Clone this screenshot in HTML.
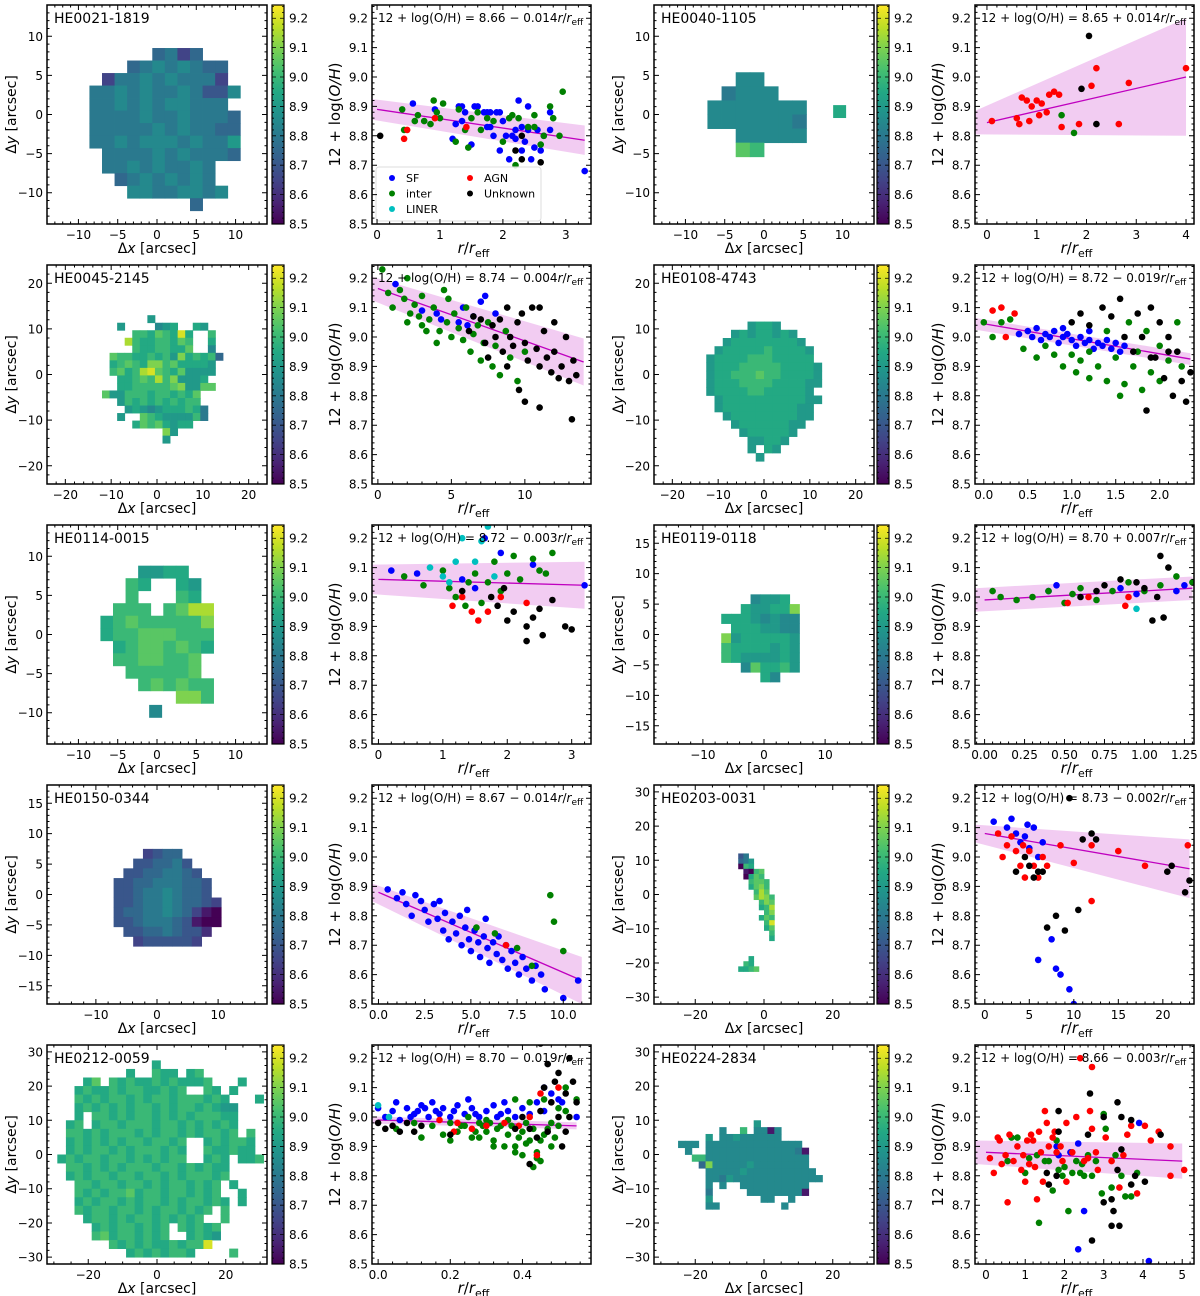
<!DOCTYPE html>
<html><head><meta charset="utf-8"><style>
html,body{margin:0;padding:0;background:#fff;}
svg{display:block;font-family:"DejaVu Sans","Liberation Sans",sans-serif;}
</style></head><body>
<svg id="fig" xmlns="http://www.w3.org/2000/svg" width="1200" height="1296" viewBox="0 0 1200 1296">
<defs>
<linearGradient id="virgrad" x1="0" y1="1" x2="0" y2="0">
<stop offset="0" stop-color="#440154"/><stop offset="0.1" stop-color="#482475"/><stop offset="0.2" stop-color="#414487"/><stop offset="0.3" stop-color="#355f8d"/><stop offset="0.4" stop-color="#2a788e"/><stop offset="0.5" stop-color="#21918c"/><stop offset="0.6" stop-color="#22a884"/><stop offset="0.7" stop-color="#44bf70"/><stop offset="0.8" stop-color="#7ad151"/><stop offset="0.9" stop-color="#bddf26"/><stop offset="1" stop-color="#fde725"/>
</linearGradient>
</defs>
</svg>
<script>
// ---------- data: scatter panels ----------
const p1SF=[[0.57,8.91],[0.92,8.89],[1.2,8.79],[1.25,8.84],[1.3,8.9],[1.35,8.9],[1.4,8.88],[1.5,8.77],[1.55,8.9],[1.6,8.9],[1.7,8.88],[1.75,8.88],[1.8,8.88],[1.8,8.83],[1.85,8.8],[1.9,8.88],[1.95,8.88],[1.95,8.75],[2.0,8.85],[2.05,8.8],[2.1,8.72],[2.15,8.8],[2.2,8.79],[2.2,8.82],[2.25,8.92],[2.3,8.83],[2.3,8.75],[2.35,8.78],[2.4,8.9],[2.4,8.82],[2.45,8.72],[2.5,8.76],[2.55,8.82],[2.6,8.75],[2.65,8.8],[2.75,8.88],[2.75,8.82],[3.3,8.68],[1.35,8.85],[1.75,8.83]];
const p1IN=[[0.4,8.89],[0.43,8.82],[0.6,8.85],[0.65,8.87],[0.75,8.85],[0.85,8.84],[0.9,8.92],[0.95,8.88],[1.0,8.86],[1.05,8.91],[1.25,8.78],[1.3,8.89],[1.4,8.82],[1.45,8.76],[1.5,8.86],[1.6,8.88],[1.65,8.82],[1.75,8.86],[1.85,8.85],[2.0,8.78],[2.1,8.86],[2.15,8.87],[2.2,8.7],[2.25,8.86],[2.4,8.83],[2.5,8.87],[2.5,8.83],[2.6,8.77],[2.65,8.8],[2.75,8.9],[2.8,8.86],[2.9,8.8],[2.95,8.95]];
const p1LI=[];
const p1AG=[[0.43,8.79],[0.48,8.82],[0.92,8.86],[1.42,8.83]];
const p1UN=[[0.05,8.8],[2.2,8.75],[2.3,8.8],[2.3,8.72],[2.6,8.71]];

const p2SF=[];
const p2IN=[[1.5,8.87],[1.75,8.81]];
const p2LI=[];
const p2AG=[[0.1,8.85],[0.6,8.86],[0.65,8.84],[0.7,8.93],[0.8,8.92],[0.85,8.85],[0.9,8.9],[1.0,8.92],[1.05,8.87],[1.1,8.91],[1.2,8.88],[1.25,8.94],[1.35,8.95],[1.45,8.94],[1.5,8.83],[1.85,8.84],[2.1,8.97],[2.2,9.03],[2.65,8.84],[2.85,8.98],[4.0,9.03]];
const p2UN=[[1.9,8.96],[2.05,9.14],[2.2,8.84]];

const p3SF=[[1.2,9.18],[3,9.09],[4.3,9.06],[5.5,9.05],[5.8,9.1],[6.1,9.04],[6.5,9.07],[4,9.08],[7,9.12],[8,9.08],[7.3,9.14]];
const p3IN=[[0.3,9.23],[0.7,9.15],[1,9.1],[1.5,9.16],[1.8,9.13],[2,9.05],[2.2,9.08],[2.5,9.11],[2.8,9.07],[3,9.04],[3.3,9.02],[3.5,9.06],[3.8,9.1],[4,8.98],[4.2,9.02],[4.5,9.16],[4.7,9.05],[5,9.0],[5.2,9.08],[5.5,9.03],[5.8,8.99],[6,9.1],[6.3,8.95],[6.5,9.01],[6.8,9.04],[7,8.92],[7.2,8.98],[7.5,9.05],[7.8,8.9],[8,8.97],[8.3,8.87],[8.7,9.02],[9,8.93],[9.5,8.85],[10,8.95],[4.8,9.13],[3,9.14],[2,9.2]];
const p3LI=[];
const p3AG=[];
const p3UN=[[6.2,9.02],[6.5,9.07],[7,9.06],[7.3,8.98],[7.5,8.93],[7.8,9.04],[8,9.0],[8.3,9.06],[8.5,8.95],[8.8,9.1],[9,9.0],[9.2,8.97],[9.5,9.05],[9.8,9.08],[10,8.98],[10.2,8.92],[10.5,9.1],[10.8,8.96],[11,8.9],[11.3,9.02],[11.5,8.93],[11.8,8.88],[12,8.95],[12.3,8.86],[12.5,8.9],[12.8,9.0],[13,8.85],[13.3,8.92],[13.5,8.87],[10,8.78],[11,8.76],[13.2,8.72],[9.6,8.82],[8.8,8.9],[12,9.05],[11,9.1]];

const p4SF=[[0.4,9.01],[0.5,9.02],[0.55,9.0],[0.6,9.03],[0.65,8.99],[0.7,9.01],[0.75,9.0],[0.8,9.02],[0.85,8.98],[0.9,9.0],[0.95,9.01],[1.0,8.99],[1.05,8.97],[1.1,9.0],[1.15,8.98],[1.2,8.99],[1.25,8.96],[1.3,8.98],[1.35,8.97],[1.4,8.99],[1.45,8.96],[1.5,8.98],[1.55,8.95],[1.6,8.97],[1.2,9.02],[0.9,9.03]];
const p4IN=[[0.0,9.05],[0.2,9.05],[0.3,9.06],[0.1,9.0],[0.45,8.96],[0.6,8.93],[0.7,8.97],[0.8,8.94],[0.9,8.9],[1.0,8.94],[1.05,8.88],[1.1,8.92],[1.2,8.86],[1.3,8.9],[1.4,8.85],[1.5,8.93],[1.6,8.84],[1.7,8.9],[1.75,8.95],[1.8,8.82],[1.85,9.02],[1.9,8.88],[2.0,8.97],[2.1,8.92],[2.2,9.05],[2.25,8.9],[1.55,8.8],[1.65,9.05],[2.0,8.85],[1.2,8.95],[1.4,9.02]];
const p4LI=[];
const p4AG=[[0.1,9.09],[0.2,9.1],[0.25,9.0],[0.35,9.08]];
const p4UN=[[1.0,9.05],[1.1,9.08],[1.2,9.04],[1.35,9.1],[1.45,9.07],[1.55,9.13],[1.6,9.0],[1.7,8.95],[1.8,9.0],[1.9,9.1],[1.95,8.93],[2.0,9.05],[2.05,8.86],[2.1,9.0],[2.15,8.8],[2.2,8.95],[2.25,8.85],[2.3,8.78],[2.35,8.88],[1.85,8.75],[1.9,8.93],[1.75,9.08],[2.1,8.95]];

const p5SF=[[0.2,9.09],[0.6,9.08],[1.3,9.06],[1.65,9.2],[1.9,9.15],[2.4,9.11],[3.2,9.04],[1.5,9.03]];
const p5IN=[[0.4,9.07],[0.7,9.04],[1.0,9.09],[1.1,9.03],[1.2,9.0],[1.4,9.05],[1.5,9.08],[1.6,8.98],[1.7,9.05],[1.8,9.12],[1.9,9.02],[2.0,9.08],[2.1,9.14],[2.2,9.06],[2.4,9.13],[2.5,9.09],[2.6,9.08],[2.7,9.15],[1.35,8.97]];
const p5LI=[[0.8,9.1],[1.0,9.07],[1.2,9.12],[1.3,9.2],[1.5,9.12],[1.6,9.19],[1.7,9.24],[1.8,9.07],[1.1,9.05]];
const p5AG=[[1.3,9.0],[1.45,8.95],[1.55,8.92],[1.7,8.95],[1.9,9.0],[2.3,8.98],[1.15,8.97]];
const p5UN=[[1.3,9.02],[1.75,9.0],[1.85,8.97],[2.0,8.92],[2.1,8.95],[2.3,8.9],[2.4,8.93],[2.5,8.96],[2.55,8.87],[2.7,8.99],[2.9,8.9],[3.0,8.89],[2.3,8.85],[1.95,9.03]];

const p6SF=[[0.4,9.02],[0.45,9.04],[0.85,9.03],[0.95,9.01],[1.2,9.02],[1.25,9.04]];
const p6IN=[[0.05,9.02],[0.1,9.0],[0.2,8.99],[0.3,9.0],[0.4,9.02],[0.5,8.98],[0.55,9.01],[0.6,9.03],[0.7,8.99],[0.8,9.02],[0.9,9.05],[1.0,9.02],[1.1,9.04],[1.2,9.07],[1.3,9.05]];
const p6LI=[[0.95,8.96]];
const p6AG=[[0.52,8.98],[0.65,9.0],[0.88,8.97],[0.9,9.0]];
const p6UN=[[0.6,9.0],[0.7,9.02],[0.75,9.04],[0.85,9.06],[0.95,9.05],[1.0,9.03],[1.05,8.92],[1.08,9.0],[1.1,9.14],[1.15,9.1],[1.12,8.93]];

const p7SF=[[0.5,8.89],[1,8.86],[1.3,8.88],[1.5,8.84],[1.8,8.8],[2,8.87],[2.3,8.85],[2.5,8.82],[2.7,8.78],[3,8.84],[3.2,8.79],[3.5,8.75],[3.6,8.81],[3.8,8.72],[4,8.78],[4.2,8.74],[4.4,8.8],[4.5,8.7],[4.7,8.76],[4.9,8.72],[5,8.68],[5.2,8.75],[5.4,8.71],[5.5,8.66],[5.7,8.73],[5.9,8.69],[6,8.64],[6.2,8.71],[6.4,8.67],[6.5,8.73],[6.7,8.65],[6.9,8.7],[7,8.62],[7.2,8.68],[7.4,8.64],[7.6,8.6],[7.8,8.66],[8,8.62],[8.3,8.58],[8.5,8.63],[8.8,8.6],[9,8.55],[10,8.52],[10.8,8.58],[3.3,8.85],[5.8,8.79],[4.8,8.82]];
const p7IN=[[5.3,8.76],[6.3,8.74],[7.5,8.69],[8.3,8.63],[9.3,8.87],[9.5,8.78],[10,8.68]];
const p7LI=[];
const p7AG=[[6.9,8.7]];
const p7UN=[];

const p8SF=[[1,9.12],[2.5,9.1],[3,9.13],[3.5,9.08],[4,9.05],[4.5,9.07],[5,9.03],[5.5,9.1],[6,9.0],[6,8.65],[7.5,8.72],[8,8.62],[8.5,8.6],[9.5,8.55],[10,8.5],[6.5,9.05],[4.8,9.11]];
const p8IN=[];
const p8LI=[];
const p8AG=[[1.5,9.08],[2,9.0],[2.5,9.04],[3,9.07],[3.5,9.02],[4,8.97],[4.3,9.04],[4.5,8.93],[5,9.02],[5.5,8.97],[6,8.93],[6.5,9.0],[7,8.97],[8.5,9.04],[10,8.98],[12,9.04],[15,9.02],[22.8,9.04],[18,8.97],[12,8.85]];
const p8UN=[[3.5,8.95],[4.5,9.0],[5,8.97],[5.5,8.93],[6,8.95],[6.5,8.95],[7,8.76],[8,8.8],[9,8.75],[9.5,9.2],[10.5,8.82],[11,9.06],[12,9.08],[12.5,9.06],[20.5,8.95],[21,8.97],[22.5,8.88],[23,8.92]];

const p9SF=[[0.0,9.03],[0.02,9.0],[0.04,9.02],[0.06,8.99],[0.08,9.03],[0.1,9.01],[0.12,9.04],[0.14,9.0],[0.16,9.02],[0.18,9.03],[0.2,9.0],[0.22,9.04],[0.24,9.01],[0.26,9.03],[0.28,9.0],[0.3,9.02],[0.32,9.04],[0.34,9.01],[0.36,9.02],[0.38,9.0],[0.4,9.03],[0.42,9.01],[0.44,9.05],[0.46,9.02],[0.15,9.05],[0.25,9.06],[0.35,9.05],[0.05,9.05],[0.48,9.08],[0.5,9.06],[0.11,9.02],[0.13,9.03],[0.09,9.0],[0.17,9.01],[0.21,9.02],[0.27,9.01],[0.33,9.0],[0.46,9.1],[0.51,9.05],[0.55,9.0]];
const p9IN=[[0.05,8.96],[0.1,8.98],[0.15,8.97],[0.18,8.94],[0.2,8.98],[0.22,8.95],[0.24,8.97],[0.26,8.93],[0.28,8.98],[0.3,8.95],[0.32,8.92],[0.34,8.97],[0.36,8.94],[0.38,8.9],[0.4,8.95],[0.42,8.92],[0.44,8.88],[0.46,8.94],[0.48,8.9],[0.5,8.97],[0.52,9.02],[0.3,8.99],[0.2,8.92],[0.35,8.9],[0.45,8.85],[0.25,9.0],[0.12,8.93],[0.41,8.98],[0.48,8.98],[0.5,9.03],[0.43,8.83],[0.33,8.96],[0.27,8.95],[0.29,8.97],[0.31,8.98],[0.37,8.97],[0.39,8.93],[0.41,8.91],[0.43,8.96],[0.45,8.92],[0.47,8.96],[0.49,8.93],[0.36,8.99],[0.4,8.87],[0.44,8.86],[0.38,8.88],[0.32,8.9],[0.28,8.93],[0.23,8.97],[0.46,9.06],[0.52,9.1],[0.55,9.06],[0.42,9.05],[0.38,9.06]];
const p9LI=[[0.0,9.04],[0.03,9.0]];
const p9AG=[[0.17,8.99],[0.22,8.98],[0.26,8.96],[0.3,8.97],[0.35,8.98],[0.39,8.97],[0.42,9.0],[0.45,9.08],[0.48,9.05],[0.5,9.1],[0.21,8.95],[0.44,8.87]];
const p9UN=[[0.0,8.98],[0.02,8.96],[0.04,8.97],[0.06,8.95],[0.08,8.98],[0.1,8.95],[0.12,8.97],[0.4,9.0],[0.42,8.96],[0.44,8.93],[0.45,9.02],[0.46,9.1],[0.47,8.95],[0.48,9.05],[0.49,9.12],[0.5,9.0],[0.5,9.15],[0.51,8.9],[0.52,9.08],[0.53,9.2],[0.53,9.0],[0.54,9.12],[0.55,9.05],[0.45,9.25],[0.47,9.18],[0.52,8.95],[0.38,8.96],[0.42,8.84],[0.2,8.94]];

const p10SF=[[1.8,8.9],[1.85,8.87],[2.15,8.88],[2.35,8.91],[2.35,8.55],[2.5,8.68],[3.9,8.98],[4.15,8.51]];
const p10IN=[[0.55,8.85],[0.65,8.93],[0.8,8.93],[1.0,8.81],[1.1,8.86],[1.3,8.87],[1.35,8.64],[1.5,8.85],[1.6,8.85],[1.7,8.75],[1.8,8.92],[1.95,8.8],[2.0,8.83],[2.1,8.68],[2.2,8.81],[2.3,8.85],[2.4,8.81],[2.5,8.8],[2.6,8.87],[2.7,8.8],[2.8,8.85],[2.95,8.74],[3.0,9.01],[3.05,8.96],[3.2,8.76],[3.3,8.87],[3.45,8.8],[3.55,8.73],[3.7,8.73],[3.85,8.81],[1.85,8.82],[2.45,8.84]];
const p10LI=[];
const p10AG=[[0.1,8.86],[0.2,8.81],[0.35,8.92],[0.4,8.84],[0.5,8.87],[0.55,8.71],[0.6,8.94],[0.7,8.85],[0.8,8.9],[0.9,8.82],[0.95,8.87],[1.0,8.78],[1.05,8.92],[1.1,8.84],[1.2,8.92],[1.25,8.83],[1.3,8.72],[1.35,8.95],[1.4,8.88],[1.45,8.78],[1.5,9.02],[1.55,8.98],[1.6,8.9],[1.7,8.93],[1.75,8.95],[1.8,8.88],[1.9,8.9],[1.95,8.85],[2.05,8.98],[2.05,8.78],[2.2,8.88],[2.3,9.0],[2.4,9.2],[2.5,8.85],[2.65,9.02],[2.7,9.17],[2.7,8.96],[2.8,8.88],[2.85,8.82],[3.05,8.93],[3.2,8.85],[3.4,8.76],[3.5,8.87],[3.6,8.94],[3.7,8.97],[3.85,8.74],[4.05,8.97],[4.2,8.92],[4.4,8.95],[4.7,8.9],[4.7,8.8],[5.05,8.82],[0.3,8.93],[1.15,8.94],[2.6,8.86]];
const p10UN=[[1.55,8.81],[1.6,8.77],[1.8,8.8],[1.85,8.95],[1.85,9.02],[2.6,8.94],[2.65,9.08],[2.7,8.58],[3.0,9.0],[3.0,8.71],[3.2,8.72],[3.2,8.63],[3.25,8.68],[3.35,9.05],[3.35,8.82],[3.4,8.63],[3.45,9.0],[3.45,8.89],[3.7,8.99],[3.7,8.77],[3.8,8.8],[4.05,8.78],[4.45,8.94]];

// fit lines: [x0, y0, x1, y1]; band half-widths [at x0, at x1]
const fitLine=[[0,8.89,3.3,8.785],[0,8.845,4,9.0],[0,9.165,14,8.915],[0,9.045,2.35,8.925],[0,9.06,3.2,9.04],[0,8.99,1.3,9.03],[0,8.88,11,8.58],[0,9.08,23,8.96],[0,8.99,0.55,8.97],[0,8.88,5,8.85]];
const fitBand=[[0.035,0.05],[0.04,0.2],[0.04,0.08],[0.02,0.02],[0.05,0.08],[0.04,0.04],[0.03,0.08],[0.03,0.1],[0.012,0.012],[0.04,0.06]];
const eqInter=["8.66","8.65","8.74","8.72","8.72","8.70","8.67","8.73","8.70","8.66"];
const eqSlope=["− 0.014","+ 0.014","− 0.004","− 0.019","− 0.003","+ 0.007","− 0.014","− 0.002","− 0.019","− 0.003"];
const xRange=[[-0.08,3.4],[-0.24,4.16],[-0.4,14.5],[-0.1,2.39],[-0.1,3.3],[-0.06,1.31],[-0.35,11.5],[-1.1,23.5],[-0.017,0.59],[-0.28,5.3]];
const xMajor=[1,1,5,0.5,1,0.25,2.5,5,0.2,1];
const xMinor=[0.2,0.2,1,0.1,0.2,0.05,0.5,1,0.04,0.2];
const xDec=[0,0,0,1,0,2,1,0,1,0];
const yTicks=[8.5,8.6,8.7,8.8,8.9,9.0,9.1,9.2];

// ---------- data: maps ----------
const mapNames=["HE0021-1819","HE0040-1105","HE0045-2145","HE0108-4743","HE0114-0015","HE0119-0118","HE0150-0344","HE0203-0031","HE0212-0059","HE0224-2834"];
const mapR=[14,14,24,24,14,18,18,32,32,32];
const mapMajX=[5,5,10,10,5,10,10,20,20,20];
const mapMinX=[1,1,2,2,1,2,2,5,5,5];
const mapMajY=[5,5,10,10,5,5,5,10,10,10];
const mapMinY=[1,1,2,2,1,1,1,2,2,2];
// grid blocks: [x0, ytop, cell, rows]; char -> 8.5 + idx*0.05
const mapBlocks=[
 [[-8.6,8.5,1.6,[".....5635...","...56767655.",".3667676663.","667676676447","66767677666.","666676676665","666667676655","667677767668",".66667676665",".667676676..","..56767676..","...77667767.","........5..."]]],
 [[-7.2,5.4,1.8,["..77...",".6777..","7777777","7777776","..77777","..BA..."]],[8.8,1.2,1.6,["9"]]],
 [[-12,13,1.65,["......8.........","..8....789..98..","....AA9BA9E9..A.","...DA99AA9BA..9.","....A99AA99B..7.",".BAA99A9A8C9A9A5",".9ABA9CCAB99998.",".AB9ADEBA9B8888.","..99ABADAC8889..","..99AAAAABC88BB.","B88AAA9AA9A9B...","..8A9A9A9A9AA...","...89878999A96..","..8..BA98888A6..","....9BAB9899....","........C8......","........8......."]]],
 [[-12.6,11.6,1.8,[".....8998.....","...89899898...","..8999999998..",".899999A99998.","89999AAA99999.","8999AAAAA99998","899AAABAA99998","8999AAAA999988","89999AA999998.",".8999999999988",".899999999988.","..89999999988.","...899999988..","....8999998...",".....88998....",".....8.98.....","......8......."]]],
 [[-7.2,8.8,1.6,["...8899...","..A9..98..","..A...A9..",".AAA.ABDD.","9ABAAAAAC.","9AABBBAAA.",".9ABBABA9.",".AABBAAB..","..AAAAAB..","...ABABAA.","......CCA."]],[-1.0,-9.0,1.6,["7"]]],
 [[-7.0,6.6,1.6,["...7889.","..98899C","99987877",".9998877","C8999998","A9999898","A9888898","..7B99A8","....97.."]]],
 [[-7.1,7.5,1.6,["...3455....","..445564...",".44556654..","4455666554.","4456676554.","44566765543","45566765310","44566654100",".445565442.","..3444443.."]]],
 [[-10.5,12,1.5,["..46.......","..568......","..0A9......","...10AB....","...09BA....","....ABBA...","....9BCA...",".....ADB...",".....BDCA..","......ACB..","......9AD..",".......AC..","......9BA..",".......AE..",".......9B..","........A..","........9..","...........","...........","...........","....9......","...A9......","..99AB....."]]],
 [[-29,27.5,2.5,["...........9............","........9..A99.9A.......","...9B.A9A99A9A999A...9..","..9A99A9AA99A9A..A9.9...","..A9A9AA9A9AA9AAA9A9...9","..9A9A9A9AA9A9AA9A988...","..9.AA9A9AA9A9A9AAA99...",".9A.9AA9AAA9AA9A9A9A9...",".AA9A9AAA9A9AA9A9AA9A.A.",".9A9A9A9AA9AA9A..9A9AA9.",".9A9AA9A9AAA9A9..A99A99.","9A9AA9AA9A9A9AA..9A9.99A",".AA9A9A9AAA9AA9A9A99....",".9A9AA9AA9AA9A9AAA9A....","..AA9AA9AA9A9AA9A9A.9...","..A9A9AAB9AA9AA9A9A..9..","..9A9AA9A9AA9A9AA9A9.9..","..A9AA9AA9A9AA9A9A.A....","...9AA9A9AA9A9A9A..A....","....9A9AA9A9A.A9A9A.....","....AB9AA9A9A..9A98.....","......A9A9A99A9AAE......","........9A9A9AA9....A..."]]],
 [[-25,10,2,["...........8.........","......7..A.7717......","....8.778777777......","777.77777777777777...",".7..777777777777761..","..AA777777777777777..","...5C77777877777777..","....7777787777777777.","....77687777777777777","....7.7..7777777777..","....6.....777777771..","....8.......77..7....","....77.........7....."]]]
];

// ---------- rendering ----------
const NS="http://www.w3.org/2000/svg";
const svg=document.getElementById('fig');
const VIR=["#440154","#482475","#414487","#355f8d","#2a788e","#21918c","#22a884","#44bf70","#7ad151","#bddf26","#fde725"];
function hex2(h){return [parseInt(h.substr(1,2),16),parseInt(h.substr(3,2),16),parseInt(h.substr(5,2),16)];}
function vir(t){t=Math.max(0,Math.min(1,t));const s=t*10,i=Math.min(9,Math.floor(s)),f=s-i;const a=hex2(VIR[i]),b=hex2(VIR[i+1]);return 'rgb('+a.map((v,k)=>Math.round(v+(b[k]-v)*f)).join(',')+')';}
const VMIN=8.5,VMAX=9.245;
function mk(tag,attrs,parent){const e=document.createElementNS(NS,tag);for(const k in attrs)e.setAttribute(k,attrs[k]);(parent||svg).appendChild(e);return e;}
function fmt(v,d){let s=v.toFixed(d);if(Math.abs(v)<1e-9)s=(0).toFixed(d);return s.replace('-','−');}
function tickRange(a,b,st){const out=[];const k0=Math.ceil(a/st-1e-6),k1=Math.floor(b/st+1e-6);for(let k=k0;k<=k1;k++)out.push(+(k*st).toFixed(6));return out;}

function drawTicks(g,L,T,W,H,sx,sy,xmaj,xmin,ymaj,ymin,xlim,ylim,xd,yd){
  const lines=[];
  tickRange(xlim[0],xlim[1],xmin).forEach(v=>{const x=sx(v);lines.push(`M${x},${T+H}v-2.5M${x},${T}v2.5`);});
  tickRange(ylim[0],ylim[1],ymin).forEach(v=>{const y=sy(v);lines.push(`M${L},${y}h2.5M${L+W},${y}h-2.5`);});
  tickRange(xlim[0],xlim[1],xmaj).forEach(v=>{const x=sx(v);lines.push(`M${x},${T+H}v-5M${x},${T}v5`);
    const t=mk('text',{x:x,y:T+H+15,'font-size':12,'text-anchor':'middle'},g);
    
    
    t.textContent=fmt(v,xd);});
  tickRange(ylim[0],ylim[1],ymaj).forEach(v=>{const y=sy(v);lines.push(`M${L},${y}h5M${L+W},${y}h-5`);
    const t=mk('text',{x:L-4,y:y+4.5,'font-size':12,'text-anchor':'end'},g);
    
    
    t.textContent=fmt(v,yd);});
  const p=mk('path',{d:lines.join(''),stroke:'#000','stroke-width':1,fill:'none'},g);
  
  
}

const rowT=[5,265,525,785,1045];
const SZ=219;
const mapL=[47,654], cbL=[272,877], scL=[372,975];

function drawMap(i,L,T){
  const g=mk('g',{});
  
  
  const W=220,H=SZ,R=mapR[i];
  const sx=v=>L+(v+R)/(2*R)*W, sy=v=>T+(R-v)/(2*R)*H;
  mapBlocks[i].forEach(b=>{
    const [x0,yt,c,rows]=b;
    rows.forEach((row,ri)=>{for(let ci=0;ci<row.length;ci++){const ch=row[ci];if(ch==='.')continue;
      const idx=parseInt(ch,16);const val=8.5+idx*0.05;
      const xa=sx(x0+ci*c),xb=sx(x0+(ci+1)*c),ya=sy(yt-ri*c),yb=sy(yt-(ri+1)*c);
      const r=mk('rect',{x:xa.toFixed(2),y:ya.toFixed(2),width:(xb-xa+0.4).toFixed(2),height:(yb-ya+0.4).toFixed(2),fill:vir((val-VMIN)/(VMAX-VMIN))},g);
      
      }});
  });
  const fr=mk('rect',{x:L,y:T,width:W,height:H,fill:'none',stroke:'#000','stroke-width':1.5},g);
  
  
  drawTicks(g,L,T,W,H,sx,sy,mapMajX[i],mapMinX[i],mapMajY[i],mapMinY[i],[-R,R],[-R,R],0,0);
  const tt=mk('text',{x:L+7,y:T+18,'font-size':14},g);
  
  
  tt.textContent=mapNames[i];
  const xl=mk('text',{x:L+W/2,y:T+H+29,'font-size':14,'text-anchor':'middle'},g);
  
  
  xl.innerHTML='Δ<tspan font-style="italic">x</tspan> [arcsec]';
  const yl=mk('text',{x:0,y:0,'font-size':14,'text-anchor':'middle',transform:`translate(${L-31},${T+H/2}) rotate(-90)`},g);
  
  
  yl.innerHTML='Δ<tspan font-style="italic">y</tspan> [arcsec]';
}
function drawCbar(L,T){
  const g=mk('g',{});
  
  
  const W=12,H=SZ;
  const r=mk('rect',{x:L,y:T,width:W,height:H,fill:'url(#virgrad)',stroke:'#000','stroke-width':1.2},g);
  
  
  const sy=v=>T+H-(v-VMIN)/(VMAX-VMIN)*H;
  let d='';
  tickRange(8.5,9.245,0.1).forEach(v=>{const y=sy(v);d+=`M${L+W},${y}h-4M${L},${y}h4`;
    const t=mk('text',{x:L+W+5,y:y+4.5,'font-size':12},g);
    
    
    t.textContent=v.toFixed(1);});
  tickRange(8.5,9.245,0.02).forEach(v=>{const y=sy(v);d+=`M${L+W},${y}h-2M${L},${y}h2`;});
  const p=mk('path',{d:d,stroke:'#000','stroke-width':0.8},g);
  
  
}
const CLS=[['SF','#0000ff'],['inter','#008000'],['LINER','#00bfbf'],['AGN','#ff0000'],['Unknown','#000000']];
const scatterData=[[p1SF,p1IN,p1LI,p1AG,p1UN],[p2SF,p2IN,p2LI,p2AG,p2UN],[p3SF,p3IN,p3LI,p3AG,p3UN],[p4SF,p4IN,p4LI,p4AG,p4UN],[p5SF,p5IN,p5LI,p5AG,p5UN],[p6SF,p6IN,p6LI,p6AG,p6UN],[p7SF,p7IN,p7LI,p7AG,p7UN],[p8SF,p8IN,p8LI,p8AG,p8UN],[p9SF,p9IN,p9LI,p9AG,p9UN],[p10SF,p10IN,p10LI,p10AG,p10UN]];
function drawScatter(i,L,T){
  const g=mk('g',{});
  
  
  const W=SZ,H=SZ,xr=xRange[i];
  const sx=v=>L+(v-xr[0])/(xr[1]-xr[0])*W, sy=v=>T+H-(v-VMIN)/(VMAX-VMIN)*H;
  const cp=mk('clipPath',{id:'clip'+i},g);
  mk('rect',{x:L,y:T,width:W,height:H},cp);
  const inner=mk('g',{'clip-path':`url(#clip${i})`},g);
  
  
  const f=fitLine[i],bd=fitBand[i];
  const band=mk('path',{d:`M${sx(xr[0])},${sy(f[1]+bd[0])}L${sx(f[2])},${sy(f[3]+bd[1])}L${sx(f[2])},${sy(f[3]-bd[1])}L${sx(xr[0])},${sy(f[1]-bd[0])}Z`,fill:'rgba(191,0,191,0.2)'},inner);
  
  
  const ln=mk('line',{x1:sx(f[0]),y1:sy(f[1]),x2:sx(f[2]),y2:sy(f[3]),stroke:'#bf00bf','stroke-width':1.3},inner);
  
  
  scatterData[i].forEach((arr,k)=>{arr.forEach(p=>{
    const c=mk('circle',{cx:sx(p[0]).toFixed(1),cy:sy(p[1]).toFixed(1),r:3.3,fill:CLS[k][1]},inner);
    
    });});
  if(i===0){
    const lg=mk('g',{},inner);
    
    
    const bx=mk('rect',{x:L+4,y:T+H-57,width:165,height:54,rx:3,fill:'rgba(255,255,255,0.8)',stroke:'#ddd'},lg);
    
    
    const pos=[[0,0],[0,1],[0,2],[1,0],[1,1]];
    CLS.forEach((c,k)=>{const ex=L+20+pos[k][0]*78,ey=T+H-46+pos[k][1]*15.5;
      const d=mk('circle',{cx:ex,cy:ey,r:3,fill:c[1]},lg);
      
      
      const t=mk('text',{x:ex+14,y:ey+4,'font-size':11},lg);
      
      
      t.textContent=c[0];});
  }
  const fr=mk('rect',{x:L,y:T,width:W,height:H,fill:'none',stroke:'#000','stroke-width':1.5},g);
  
  
  drawTicks(g,L,T,W,H,sx,sy,xMajor[i],xMinor[i],0.1,0.02,xr,[VMIN,VMAX],xDec[i],1);
  const eq=mk('text',{x:L+6,y:T+17,'font-size':12},g);
  
  
  eq.innerHTML=`12 + log(O/H) = ${eqInter[i]} ${eqSlope[i]}<tspan font-style="italic">r</tspan>/<tspan font-style="italic">r</tspan><tspan font-size="9" dy="3">eff</tspan>`;
  const xl=mk('text',{x:L+W/2-8,y:T+H+29,'font-size':15,'text-anchor':'middle'},g);
  
  
  xl.innerHTML='<tspan font-style="italic">r</tspan>/<tspan font-style="italic">r</tspan><tspan font-size="11" dy="4">eff</tspan>';
  const yl=mk('text',{x:0,y:0,'font-size':15,'text-anchor':'middle',transform:`translate(${L-32},${T+H/2}) rotate(-90)`},g);
  
  
  yl.innerHTML='12 + log(<tspan font-style="italic">O/H</tspan>)';
}
for(let r=0;r<5;r++){for(let c=0;c<2;c++){const i=r*2+c;
  drawMap(i,mapL[c],rowT[r]);drawCbar(cbL[c],rowT[r]);drawScatter(i,scL[c],rowT[r]);}}
</script>
</body></html>
